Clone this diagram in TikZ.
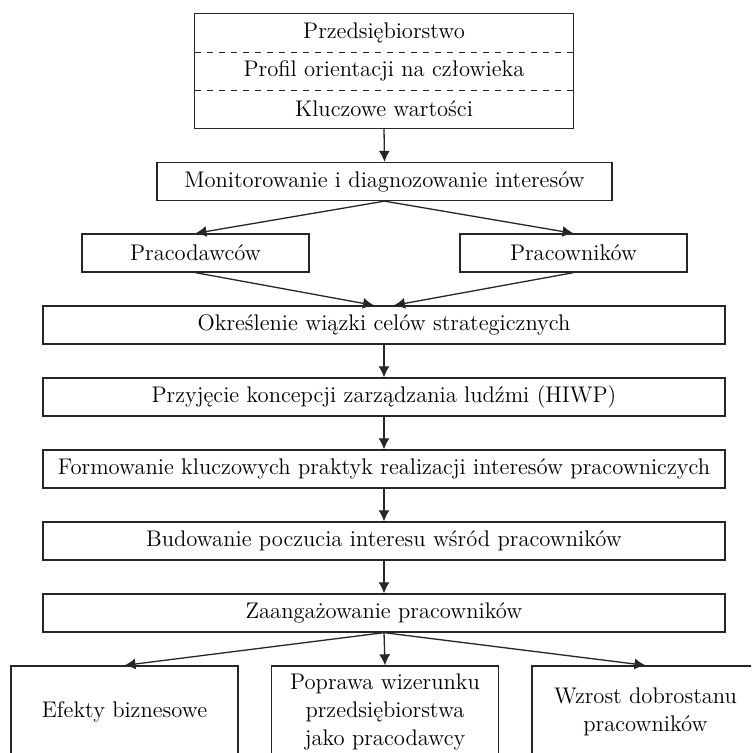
\documentclass[tikz,border=0pt]{standalone}
\usetikzlibrary{arrows.meta}
\begin{document}
\begin{tikzpicture}[x=0.5pt, y=-0.5pt, font=\fontsize{11.3}{14}\selectfont]
    \tikzstyle{box}=[draw=black!85, line width=0.65pt, minimum height=19pt, inner sep=0pt, align=center]
    \tikzstyle{part}=[minimum width=189pt, minimum height=19pt, inner sep=0pt]
    \tikzstyle{result}=[box, minimum width=113.5pt, minimum height=46pt]
    \tikzstyle{arr}=[draw=black!85, line width=0.65pt, -{Latex[length=5.5pt, width=5.5pt]}]
    \useasboundingbox (0,0) rectangle (751,753);
    \clip (0,0) rectangle (751,753);
    % firma
    \node[part] (firm) at (384,33) {Przedsiębiorstwo};
    \node[part] (profile) at (384,71) {Profil orientacji na człowieka};
    \node[part] (values) at (384,109) {Kluczowe wartości};
    \draw[draw=black!85, line width=0.65pt] (firm.north west) rectangle (values.south east);
    \draw[draw=black!85, line width=0.5pt, dashed] (firm.south west) -- (firm.south east);
    \draw[draw=black!85, line width=0.5pt, dashed] (profile.south west) -- (profile.south east);
    % interesy
    \node[box, minimum width=227.5pt] (monit) at (384.5,181.5) {Monitorowanie i diagnozowanie interesów};
    \node[box, minimum width=113.5pt] (employer) at (195.5,253) {Pracodawców};
    \node[box, minimum width=113.5pt] (staff) at (573.5,253) {Pracowników};
    % etapy
    \node[box, minimum width=341pt] (goals) at (384,325) {Określenie wiązki celów strategicznych};
    \node[box, minimum width=341pt] (hiwp) at (384,397) {Przyjęcie koncepcji zarządzania ludźmi (HIWP)};
    \node[box, minimum width=341pt] (practice) at (384,469) {Formowanie kluczowych praktyk realizacji interesów pracowniczych};
    \node[box, minimum width=341pt] (sense) at (384,541) {Budowanie poczucia interesu wśród pracowników};
    \node[box, minimum width=341pt] (engage) at (384,613) {Zaangażowanie pracowników};
    % efekty
    \node[result] (business) at (124.5,712) {Efekty biznesowe};
    \node[result] (image) at (385,712) {Poprawa wizerunku\\przedsiębiorstwa\\jako pracodawcy};
    \node[result] (wellbeing) at (645.5,712) {Wzrost dobrostanu\\pracowników};
    \draw[arr] (values.south) -- (monit.north);
    \draw[arr] (monit.south) -- (employer.north);
    \draw[arr] (monit.south) -- (staff.north);
    \draw[arr] (employer.south) -- ([xshift=-5pt]goals.north);
    \draw[arr] (staff.south) -- ([xshift=5pt]goals.north);
    \draw[arr] (goals) -- (hiwp);
    \draw[arr] (hiwp) -- (practice);
    \draw[arr] (practice) -- (sense);
    \draw[arr] (sense) -- (engage);
    \draw[arr] (engage.south) -- (business.north);
    \draw[arr] (engage.south) -- (image.north);
    \draw[arr] (engage.south) -- (wellbeing.north);
  \end{tikzpicture}
\end{document}
